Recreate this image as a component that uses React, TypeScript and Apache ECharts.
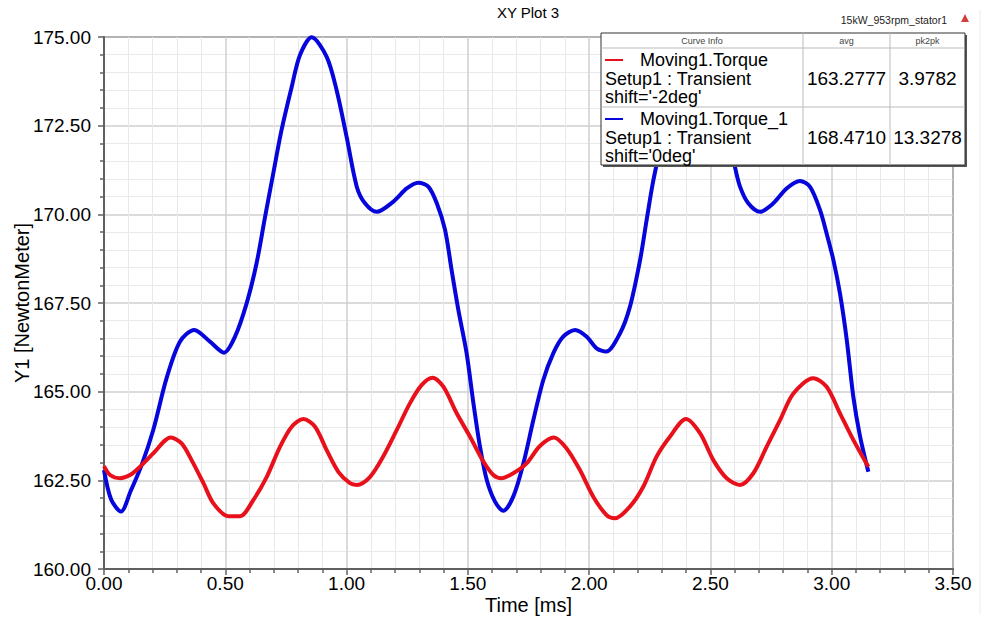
import React, { useEffect, useRef } from "react";
import * as echarts from "echarts";

const xTicks = [0, 0.5, 1.0, 1.5, 2.0, 2.5, 3.0, 3.5];
const yTicks = [160, 162.5, 165, 167.5, 170, 172.5, 175];

const redTime = [0, 0.025, 0.066, 0.107, 0.148, 0.203, 0.275, 0.32, 0.361, 0.41, 0.451, 0.512, 0.561, 0.616, 0.671, 0.726, 0.774, 0.822, 0.87, 0.918, 0.966, 1.014, 1.042, 1.097, 1.151, 1.207, 1.261, 1.31, 1.355, 1.399, 1.454, 1.509, 1.564, 1.605, 1.639, 1.687, 1.742, 1.797, 1.855, 1.907, 1.962, 2.017, 2.072, 2.107, 2.168, 2.223, 2.278, 2.333, 2.399, 2.457, 2.512, 2.567, 2.622, 2.677, 2.732, 2.787, 2.842, 2.924, 2.979, 3.034, 3.089, 3.151];
const redTorque = [162.9, 162.65, 162.56, 162.65, 162.88, 163.26, 163.71, 163.54, 163.07, 162.42, 161.85, 161.49, 161.49, 161.95, 162.6, 163.45, 164.01, 164.23, 164.01, 163.35, 162.74, 162.42, 162.37, 162.6, 163.17, 163.92, 164.67, 165.19, 165.39, 165.14, 164.39, 163.73, 163.03, 162.65, 162.56, 162.7, 162.98, 163.47, 163.71, 163.4, 162.79, 162.04, 161.52, 161.43, 161.76, 162.32, 163.17, 163.73, 164.23, 163.83, 163.07, 162.56, 162.37, 162.7, 163.45, 164.2, 164.95, 165.38, 165.14, 164.39, 163.64, 162.88];

const blueTime = [0, 0.03, 0.07, 0.11, 0.155, 0.203, 0.258, 0.313, 0.372, 0.437, 0.495, 0.54, 0.588, 0.629, 0.664, 0.698, 0.732, 0.774, 0.808, 0.856, 0.918, 0.959, 1.0, 1.042, 1.076, 1.124, 1.193, 1.248, 1.296, 1.337, 1.372, 1.406, 1.433, 1.461, 1.495, 1.523, 1.55, 1.578, 1.612, 1.646, 1.687, 1.729, 1.77, 1.811, 1.852, 1.893, 1.942, 1.99, 2.031, 2.07, 2.127, 2.168, 2.21, 2.237, 2.265, 2.31, 2.352, 2.386, 2.434, 2.496, 2.537, 2.578, 2.601, 2.622, 2.656, 2.704, 2.759, 2.814, 2.869, 2.91, 2.952, 2.979, 3.007, 3.034, 3.062, 3.089, 3.117, 3.151];
const blueTorque = [162.79, 161.95, 161.62, 162.2, 162.93, 163.92, 165.38, 166.41, 166.74, 166.41, 166.1, 166.55, 167.49, 168.62, 169.93, 171.16, 172.38, 173.6, 174.49, 174.99, 174.44, 173.5, 172.19, 170.78, 170.31, 170.07, 170.36, 170.73, 170.89, 170.78, 170.31, 169.56, 168.43, 167.3, 166.08, 164.67, 163.45, 162.51, 161.9, 161.64, 162.04, 162.98, 164.2, 165.33, 166.08, 166.55, 166.74, 166.55, 166.22, 166.13, 166.64, 167.39, 168.71, 169.84, 170.97, 172.38, 173.6, 174.49, 174.99, 174.44, 173.5, 172.19, 171.34, 170.78, 170.31, 170.07, 170.31, 170.73, 170.94, 170.78, 170.12, 169.46, 168.71, 167.77, 166.46, 164.86, 163.73, 162.74];

const seriesNames = ["Moving1.Torque", "Moving1.Torque_1"];
const setupNames = ["Setup1 : Transient", "Setup1 : Transient"];
const shiftNames = ["shift='-2deg'", "shift='0deg'"];
const avgValues = ["163.2777", "168.4710"];
const pk2pkValues = ["3.9782", "13.3278"];
const seriesColors = ["#e8101a", "#0505dc"];

const FONT = "'Liberation Sans', Arial, sans-serif";

export default function App() {
  const ref = useRef<HTMLDivElement>(null);
  useEffect(() => {
    document.body.style.margin = "0";
    const chart = echarts.init(ref.current!, null, { renderer: "svg" });
    const redData = redTime.map((t, i) => [t, redTorque[i]]);
    const blueData = blueTime.map((t, i) => [t, blueTorque[i]]);

    const lx = 601, ly = 33, lw = 364, lh = 132;
    const c1 = 803, c2 = 890;
    const rowTops = [48, 107];
    const legendGraphics: any[] = [
      { type: "rect", shape: { x: lx + 2, y: ly + 2, width: lw, height: lh }, style: { fill: "#555" }, z: 100 },
      { type: "rect", shape: { x: lx, y: ly, width: lw, height: lh }, style: { fill: "#fff", stroke: "#333", lineWidth: 1 }, z: 101 },
      { type: "line", shape: { x1: lx, y1: 48, x2: lx + lw, y2: 48 }, style: { stroke: "#bbb", lineWidth: 1 }, z: 102 },
      { type: "line", shape: { x1: lx, y1: 107, x2: lx + lw, y2: 107 }, style: { stroke: "#bbb", lineWidth: 1 }, z: 102 },
      { type: "line", shape: { x1: c1, y1: ly, x2: c1, y2: ly + lh }, style: { stroke: "#bbb", lineWidth: 1 }, z: 102 },
      { type: "line", shape: { x1: c2, y1: ly, x2: c2, y2: ly + lh }, style: { stroke: "#bbb", lineWidth: 1 }, z: 102 },
      { type: "text", x: (lx + c1) / 2, y: 41, style: { text: "Curve Info", fontSize: 9, fontFamily: FONT, fill: "#444", align: "center", verticalAlign: "middle" }, z: 103 },
      { type: "text", x: (c1 + c2) / 2, y: 41, style: { text: "avg", fontSize: 9, fontFamily: FONT, fill: "#444", align: "center", verticalAlign: "middle" }, z: 103 },
      { type: "text", x: (c2 + lx + lw) / 2, y: 41, style: { text: "pk2pk", fontSize: 9, fontFamily: FONT, fill: "#444", align: "center", verticalAlign: "middle" }, z: 103 },
    ];
    rowTops.forEach((top, i) => {
      const m = top + 12;
      legendGraphics.push(
        { type: "line", shape: { x1: 605, y1: m, x2: 623, y2: m }, style: { stroke: seriesColors[i], lineWidth: 2 }, z: 103 },
        { type: "text", x: 640, y: m, style: { text: seriesNames[i], fontSize: 18, fontFamily: FONT, fill: "#000", align: "left", verticalAlign: "middle" }, z: 103 },
        { type: "text", x: 605, y: m + 18.5, style: { text: setupNames[i], fontSize: 18, fontFamily: FONT, fill: "#000", align: "left", verticalAlign: "middle" }, z: 103 },
        { type: "text", x: 605, y: m + 37, style: { text: shiftNames[i], fontSize: 18, fontFamily: FONT, fill: "#000", align: "left", verticalAlign: "middle" }, z: 103 },
        { type: "text", x: (c1 + c2) / 2, y: m + 18, style: { text: avgValues[i], fontSize: 19, fontFamily: FONT, fill: "#000", align: "center", verticalAlign: "middle" }, z: 103 },
        { type: "text", x: (c2 + lx + lw) / 2, y: m + 18, style: { text: pk2pkValues[i], fontSize: 19, fontFamily: FONT, fill: "#000", align: "center", verticalAlign: "middle" }, z: 103 },
      );
    });

    const option: any = {
      animation: false,
      backgroundColor: "#fff",
      grid: { left: 104, top: 37, right: 37, bottom: 58, outerBoundsMode: "none", containLabel: false, show: true, borderColor: "#606060", borderWidth: 2, backgroundColor: "transparent" },
      xAxis: {
        type: "value",
        min: xTicks[0],
        max: xTicks[xTicks.length - 1],
        interval: 0.5,
        name: "Time [ms]",
        nameLocation: "middle",
        nameGap: 26,
        nameMoveOverlap: false,
        nameTextStyle: { fontSize: 20, fontFamily: FONT, color: "#000" },
        axisLine: { show: true, lineStyle: { color: "#606060", width: 2 } },
        axisTick: { show: true, length: 6, lineStyle: { color: "#606060", width: 1.5 } },
        minorTick: { show: true, splitNumber: 5, length: 4, lineStyle: { color: "#606060", width: 1.5 } },
        axisLabel: { fontSize: 19, fontFamily: FONT, color: "#000", margin: 5, formatter: (v: number) => v.toFixed(2) },
        splitLine: { show: true, lineStyle: { color: "#cfcfcf", width: 1.5 } },
        minorSplitLine: { show: true, lineStyle: { color: "#e9e9e9", width: 1 } },
      },
      yAxis: {
        type: "value",
        min: yTicks[0],
        max: yTicks[yTicks.length - 1],
        interval: 2.5,
        name: "Y1 [NewtonMeter]",
        nameLocation: "middle",
        nameGap: 72,
        nameMoveOverlap: false,
        nameRotate: 90,
        nameTextStyle: { fontSize: 20, fontFamily: FONT, color: "#000" },
        axisLine: { show: true, lineStyle: { color: "#606060", width: 2 } },
        axisTick: { show: true, length: 6, lineStyle: { color: "#606060", width: 1.5 } },
        minorTick: { show: true, splitNumber: 5, length: 4, lineStyle: { color: "#606060", width: 1.5 } },
        axisLabel: { fontSize: 19, fontFamily: FONT, color: "#000", margin: 13, formatter: (v: number) => v.toFixed(2) },
        splitLine: { show: true, lineStyle: { color: "#cfcfcf", width: 1.5 } },
        minorSplitLine: { show: true, lineStyle: { color: "#e9e9e9", width: 1 } },
      },
      series: [
        { name: seriesNames[1], type: "line", data: blueData, showSymbol: false, smooth: 0.3, lineStyle: { color: seriesColors[1], width: 4 }, z: 3 },
        { name: seriesNames[0], type: "line", data: redData, showSymbol: false, smooth: 0.3, lineStyle: { color: seriesColors[0], width: 4 }, z: 4 },
      ],
      graphic: [
        { type: "text", x: 528, y: 12, style: { text: "XY Plot 3", fontSize: 15, fontFamily: FONT, fill: "#000", align: "center", verticalAlign: "middle" } },
        { type: "text", x: 947, y: 20, style: { text: "15kW_953rpm_stator1", fontSize: 10.5, fontFamily: FONT, fill: "#222", align: "right", verticalAlign: "middle" } },
        { type: "polygon", shape: { points: [[965, 14], [961, 22], [969, 22]] }, style: { fill: "#d04040" } },
        { type: "line", shape: { x1: 980, y1: 10, x2: 980, y2: 615 }, style: { stroke: "#ececec", lineWidth: 1 } },
        ...legendGraphics,
      ],
    };
    chart.setOption(option);
    return () => chart.dispose();
  }, []);
  return <div ref={ref} style={{ width: 990, height: 627 }} />;
}
